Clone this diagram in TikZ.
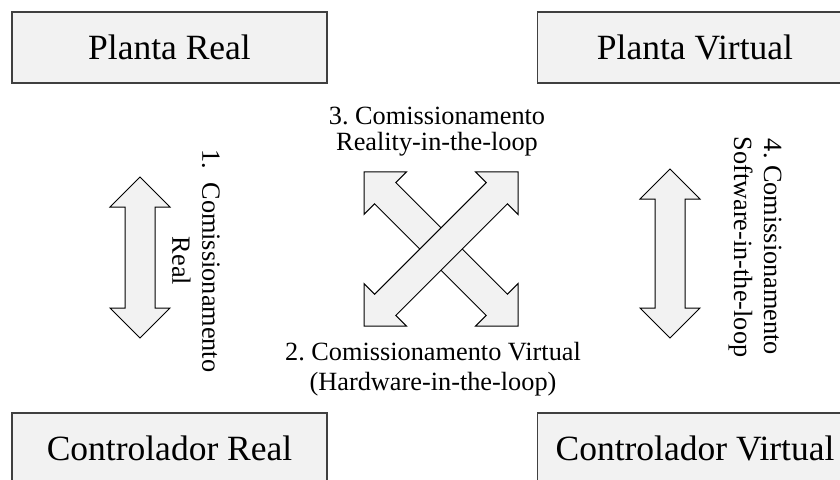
\documentclass[tikz,border=0pt]{standalone}
\usepackage{fontspec}
\setmainfont{Liberation Serif}
\usepackage{tikz}
\usetikzlibrary{positioning}
\definecolor{BoxFill}{HTML}{F2F2F2}
\definecolor{BoxLine}{HTML}{404040}
\frenchspacing
\begin{document}
\begin{tikzpicture}[x=1pt,y=-1pt,
  every node/.style={align=center},
  plant/.style={draw=BoxLine,line width=1.5pt,fill=BoxFill,minimum width=315pt,minimum height=71pt,inner sep=0pt,font=\fontsize{35.5}{40}\selectfont},
  lbl/.style={inner sep=0pt,font=\fontsize{26.3}{30}\selectfont},
  arrowbody/.style={draw=black,line width=1pt,fill=BoxFill,line join=miter},
  dblarrow/.pic={\draw[arrowbody] (0,-#1) -- (30,{-#1+30}) -- (15,{-#1+30}) -- (15,{#1-30}) -- (30,{#1-30}) -- (0,#1)
    -- (-30,{#1-30}) -- (-15,{#1-30}) -- (-15,{-#1+30}) -- (-30,{-#1+30}) -- cycle;}
]
\useasboundingbox (0,0) rectangle (840,479);
\clip (0,0) rectangle (840,479);
% four blocks
\node[plant] (pr) at (169.5,47.5) {Planta Real};
\node[plant] (pv) at (695,47.5) {Planta Virtual};
\node[plant] (cr) at (169.5,448.5) {Controlador Real};
\node[plant] (cv) at (695,448.5) {Controlador Virtual};
% block arrows
\pic (ar) at (140,257.5) {dblarrow=80.5};
\pic (as) at (670,253.5) {dblarrow=84.5};
\pic[rotate=45] (ah) at (441,249) {dblarrow=108.9};
\pic[rotate=-45] (ax) at (441,249) {dblarrow=108.9};
% labels
\node[lbl,rotate=-90] (l1) at (196,261) {1.~~Comissionamento\\Real};
\node[lbl] (l2) at (433,369) {2. Comissionamento Virtual\\(Hardware-in-the-loop)};
\node[lbl,font=\fontsize{26.3}{26}\selectfont] (l3) at (437,132) {3. Comissionamento\\Reality-in-the-loop};
\node[lbl,rotate=-90] (l4) at (755,247) {4. Comissionamento\\Software-in-the-loop};
\end{tikzpicture}
\end{document}
